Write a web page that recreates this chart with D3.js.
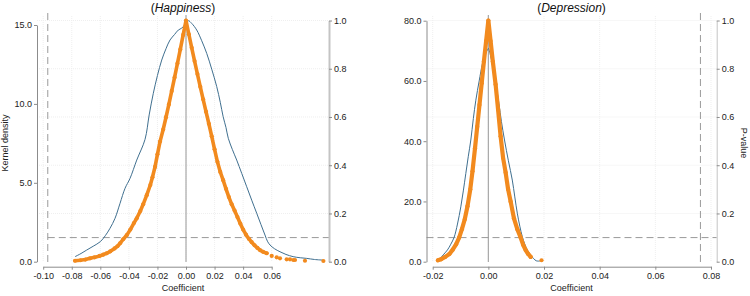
<!DOCTYPE html>
<html>
<head>
<meta charset="utf-8">
<script src="https://cdn.jsdelivr.net/npm/d3@7"></script>
<style>
  html, body { margin: 0; padding: 0; background: #fff; }
  svg { display: block; font-family: "Liberation Sans", Arial, sans-serif; }
</style>
</head>
<body>
<svg id="chart" width="750" height="296"></svg>
<script>
// ---------------- DATA ----------------
const happyTitle = "Happiness";
const depressTitle = "Depression";

const happyXTicks = [-0.10, -0.08, -0.06, -0.04, -0.02, 0.00, 0.02, 0.04, 0.06];
const happyDensityTicks = [0, 5, 10, 15];
const depressXTicks = [-0.02, 0.00, 0.02, 0.04, 0.06, 0.08];
const depressDensityTicks = [0, 20, 40, 60, 80];
const pTicks = [0, 0.2, 0.4, 0.6, 0.8, 1.0];

// Happiness: kernel density of coefficients
const happyDensCoef = [-0.0777, -0.0735, -0.0695, -0.065, -0.060, -0.0565, -0.0532, -0.0497, -0.0462, -0.0427, -0.0392, -0.0345, -0.0287, -0.0258, -0.0229, -0.020, -0.017, -0.014, -0.0112, -0.008, -0.0054, -0.003, -0.001, 0.0016, 0.004, 0.0075, 0.011, 0.0145, 0.018, 0.0215, 0.024, 0.026, 0.028, 0.0296, 0.0325, 0.0355, 0.039, 0.0425, 0.046, 0.0495, 0.0525, 0.0553, 0.057, 0.0588, 0.062, 0.0658, 0.070, 0.075, 0.080, 0.0845, 0.090, 0.096];
const happyDensValue = [0.32, 0.52, 0.74, 0.98, 1.27, 1.65, 2.12, 2.75, 3.7, 4.65, 5.28, 6.44, 7.75, 9.3, 10.67, 11.8, 12.78, 13.5, 14.05, 14.4, 14.68, 14.8, 15.0, 15.27, 15.1, 14.68, 14.0, 13.2, 12.2, 11.1, 10.1, 9.19, 8.5, 7.82, 7.1, 6.44, 5.6, 4.75, 3.9, 3.07, 2.35, 1.69, 1.3, 1.06, 0.82, 0.63, 0.46, 0.32, 0.25, 0.21, 0.14, 0.1];

// Happiness: p-value of each specification (dense band)
const happyPCoef = [-0.0777, -0.074, -0.0705, -0.0672, -0.064, -0.0605, -0.058, -0.0555, -0.053, -0.050, -0.048, -0.0462, -0.044, -0.0415, -0.039, -0.0365, -0.0345, -0.032, -0.030, -0.0275, -0.025, -0.0235, -0.0217, -0.020, -0.0182, -0.016, -0.014, -0.012, -0.010, -0.008, -0.006, -0.004, -0.002, 0.000, 0.002, 0.004, 0.006, 0.008, 0.010, 0.012, 0.014, 0.016, 0.018, 0.020, 0.022, 0.024, 0.026, 0.028, 0.030, 0.032, 0.034, 0.036, 0.038, 0.040, 0.042, 0.044, 0.046, 0.048, 0.050, 0.0518, 0.054, 0.0565];
const happyPValue = [0.004, 0.006, 0.009, 0.014, 0.018, 0.024, 0.029, 0.035, 0.043, 0.055, 0.064, 0.076, 0.093, 0.11, 0.133, 0.16, 0.18, 0.21, 0.238, 0.276, 0.318, 0.35, 0.393, 0.445, 0.498, 0.548, 0.599, 0.652, 0.708, 0.764, 0.822, 0.880, 0.940, 1.000, 0.943, 0.887, 0.832, 0.778, 0.725, 0.673, 0.622, 0.572, 0.520, 0.466, 0.414, 0.372, 0.338, 0.302, 0.268, 0.238, 0.212, 0.185, 0.158, 0.133, 0.112, 0.095, 0.081, 0.068, 0.057, 0.048, 0.041, 0.035];
// Happiness: scattered tail specifications
const happyTailCoef = [0.060, 0.0635, 0.0658, 0.0705, 0.0728, 0.0751, 0.0763, 0.0833, 0.0962];
const happyTailP = [0.024, 0.018, 0.014, 0.010, 0.010, 0.007, 0.007, 0.004, 0.003];

// Depression: kernel density of coefficients
const depressDensCoef = [-0.0180, -0.0170, -0.0160, -0.0147, -0.0135, -0.0123, -0.0111, -0.0099, -0.0090, -0.0081, -0.0072, -0.0063, -0.0054, -0.0045, -0.0033, -0.0021, -0.0010, -0.0004, 0.0000, 0.0010, 0.0020, 0.0029, 0.0038, 0.0047, 0.0058, 0.0072, 0.0086, 0.0095, 0.0104, 0.0113, 0.0122, 0.0131, 0.0140, 0.0152, 0.0163, 0.0172, 0.0185];
const depressDensValue = [0.6, 1.4, 2.5, 3.9, 5.8, 8.1, 12.5, 18.2, 23.5, 29.3, 35.0, 40.4, 47.5, 53.6, 60.0, 65.8, 69.0, 70.2, 70.8, 67.5, 63.6, 58.0, 52.5, 46.5, 40.4, 33.5, 27.1, 21.5, 16.1, 11.8, 8.3, 5.8, 3.9, 2.2, 1.0, 0.3, 0.2];

// Depression: p-value of each specification (dense band)
const depressPCoef = [-0.0181, -0.0170, -0.0155, -0.0140, -0.0128, -0.0116, -0.0105, -0.0095, -0.0085, -0.0075, -0.0065, -0.0057, -0.0048, -0.0040, -0.0032, -0.0024, -0.0016, -0.0008, 0.0000, 0.0008, 0.0016, 0.0026, 0.0035, 0.0044, 0.0053, 0.0062, 0.0071, 0.0080, 0.0092, 0.0104, 0.0116, 0.0125, 0.0134, 0.0143, 0.0152];
const depressPValue = [0.006, 0.010, 0.020, 0.032, 0.050, 0.072, 0.100, 0.135, 0.175, 0.230, 0.300, 0.375, 0.470, 0.560, 0.650, 0.740, 0.830, 0.915, 1.000, 0.915, 0.830, 0.735, 0.630, 0.520, 0.430, 0.370, 0.300, 0.250, 0.180, 0.135, 0.100, 0.070, 0.048, 0.032, 0.020];
const depressTailCoef = [0.0191];
const depressTailP = [0.006];

// reference lines
const pThreshold = 0.1;
const happyRefCoef = -0.0968;
const depressRefCoef = 0.0762;

// ---------------- DRAW ----------------
const svg = d3.select("#chart");
const blue = "#3f6f8f", orange = "#f28a1e", axisGrey = "#8c8c8c", dashGrey = "#9a9a9a";

function drawPanel(cfg) {
  const g = svg.append("g");
  const x = d3.scaleLinear().domain([cfg.xTicks[0], cfg.xTicks[cfg.xTicks.length - 1]]).range(cfg.xRange);
  const yD = d3.scaleLinear().domain([0, cfg.densTicks[cfg.densTicks.length - 1]]).range([261.7, cfg.densTop]);
  const yP = d3.scaleLinear().domain([0, 1]).range([261.7, 20.5]);

  // faint grid
  g.append("g").selectAll("line.gx").data(cfg.xTicks).join("line")
    .attr("x1", d => x(d)).attr("x2", d => x(d)).attr("y1", 16).attr("y2", 262)
    .attr("stroke", "#efefef").attr("stroke-width", 1).attr("stroke-dasharray", "1,1");
  g.append("g").selectAll("line.gy").data(pTicks.slice(1)).join("line")
    .attr("x1", cfg.leftAxisX).attr("x2", cfg.rightAxisX).attr("y1", d => yP(d)).attr("y2", d => yP(d))
    .attr("stroke", "#efefef").attr("stroke-width", 1).attr("stroke-dasharray", "1,1");

  // zero line
  g.append("line").attr("x1", x(0)).attr("x2", x(0)).attr("y1", 15).attr("y2", 262)
    .attr("stroke", "#a8a8a8").attr("stroke-width", 1.2);

  // reference dashed lines
  g.append("line").attr("x1", x(cfg.refCoef)).attr("x2", x(cfg.refCoef)).attr("y1", 13).attr("y2", 266)
    .attr("stroke", dashGrey).attr("stroke-width", 1).attr("stroke-dasharray", "7,4");
  g.append("line").attr("x1", cfg.hDashFrom(x)).attr("x2", cfg.rightAxisX).attr("y1", yP(pThreshold)).attr("y2", yP(pThreshold))
    .attr("stroke", dashGrey).attr("stroke-width", 1).attr("stroke-dasharray", "7,4");

  // kernel density
  const densPts = cfg.densCoef.map((c, i) => [c, cfg.densVal[i]]);
  g.append("path").datum(densPts)
    .attr("d", d3.line().x(d => x(d[0])).y(d => yD(d[1])).curve(d3.curveCatmullRom))
    .attr("fill", "none").attr("stroke", blue).attr("stroke-width", 1);

  // p-value points
  const pPts = cfg.pCoef.map((c, i) => [c, cfg.pVal[i]]);
  g.append("path").datum(pPts)
    .attr("d", d3.line().x(d => x(d[0])).y(d => yP(d[1])))
    .attr("fill", "none").attr("stroke", orange).attr("stroke-width", cfg.bandWidth)
    .attr("stroke-linejoin", "round").attr("stroke-linecap", "round");
  const tailPts = cfg.tailCoef.map((c, i) => [c, cfg.tailP[i]]);
  g.append("g").selectAll("circle").data(pPts.concat(tailPts)).join("circle")
    .attr("cx", d => x(d[0])).attr("cy", d => yP(d[1])).attr("r", 2.1).attr("fill", orange);

  // axes
  const fmt2 = d3.format(".2f"), fmt1 = d3.format(".1f");
  const xAxis = g.append("g").attr("transform", "translate(0,266.7)")
    .call(d3.axisBottom(x).tickValues(cfg.xTicks).tickFormat(d => fmt2(d).replace("−", "-")).tickSize(3).tickSizeOuter(0).tickPadding(3));
  const lAxis = g.append("g").attr("transform", `translate(${cfg.leftAxisX},0)`)
    .call(d3.axisLeft(yD).tickValues(cfg.densTicks).tickFormat(d => fmt1(d)).tickSize(3).tickSizeOuter(0).tickPadding(2));
  const rAxis = g.append("g").attr("transform", `translate(${cfg.rightAxisX},0)`)
    .call(d3.axisRight(yP).tickValues(pTicks).tickFormat(d => fmt1(d)).tickSize(3).tickSizeOuter(0).tickPadding(2));
  [xAxis, lAxis, rAxis].forEach(a => {
    a.selectAll("path.domain").attr("stroke", axisGrey);
    a.selectAll(".tick line").attr("stroke", axisGrey);
    a.selectAll("text").attr("fill", "#222").style("font-size", "9px").style("font-family", '"Liberation Sans", Arial, sans-serif');
  });
  rAxis.select("path.domain").attr("stroke", "#c4c4c4").attr("stroke-width", cfg.rightAxisWidth);

  // title
  const t = g.append("text").attr("x", cfg.titleX).attr("y", 11.5).attr("text-anchor", "middle")
    .style("font-size", "12px").attr("fill", "#111");
  t.append("tspan").text("(");
  t.append("tspan").style("font-style", "italic").text(cfg.title);
  t.append("tspan").text(")");

  // x label
  g.append("text").attr("x", cfg.titleX).attr("y", 291).attr("text-anchor", "middle")
    .style("font-size", "9px").attr("fill", "#222").text("Coefficient");
}

drawPanel({
  title: happyTitle, titleX: 183,
  xTicks: happyXTicks, xRange: [43.2, 271.7],
  densTicks: happyDensityTicks, densTop: 25,
  leftAxisX: 37, rightAxisX: 329, rightAxisWidth: 2,
  refCoef: happyRefCoef, hDashFrom: x => x(happyRefCoef),
  densCoef: happyDensCoef, densVal: happyDensValue,
  pCoef: happyPCoef, pVal: happyPValue, tailCoef: happyTailCoef, tailP: happyTailP,
  bandWidth: 3.6
});
drawPanel({
  title: depressTitle, titleX: 571.5,
  xTicks: depressXTicks, xRange: [432.7, 711.0],
  densTicks: depressDensityTicks, densTop: 20.7,
  leftAxisX: 426.5, rightAxisX: 716.7, rightAxisWidth: 1,
  refCoef: depressRefCoef, hDashFrom: x => 426.5,
  densCoef: depressDensCoef, densVal: depressDensValue,
  pCoef: depressPCoef, pVal: depressPValue, tailCoef: depressTailCoef, tailP: depressTailP,
  bandWidth: 4.2
});

// axis titles
svg.append("text").attr("transform", "translate(8,143) rotate(-90)").attr("text-anchor", "middle")
  .style("font-size", "9px").attr("fill", "#222").text("Kernel density");
svg.append("text").attr("transform", "translate(741,143) rotate(90)").attr("text-anchor", "middle")
  .style("font-size", "9px").attr("fill", "#222").text("P-value");
</script>
</body>
</html>
